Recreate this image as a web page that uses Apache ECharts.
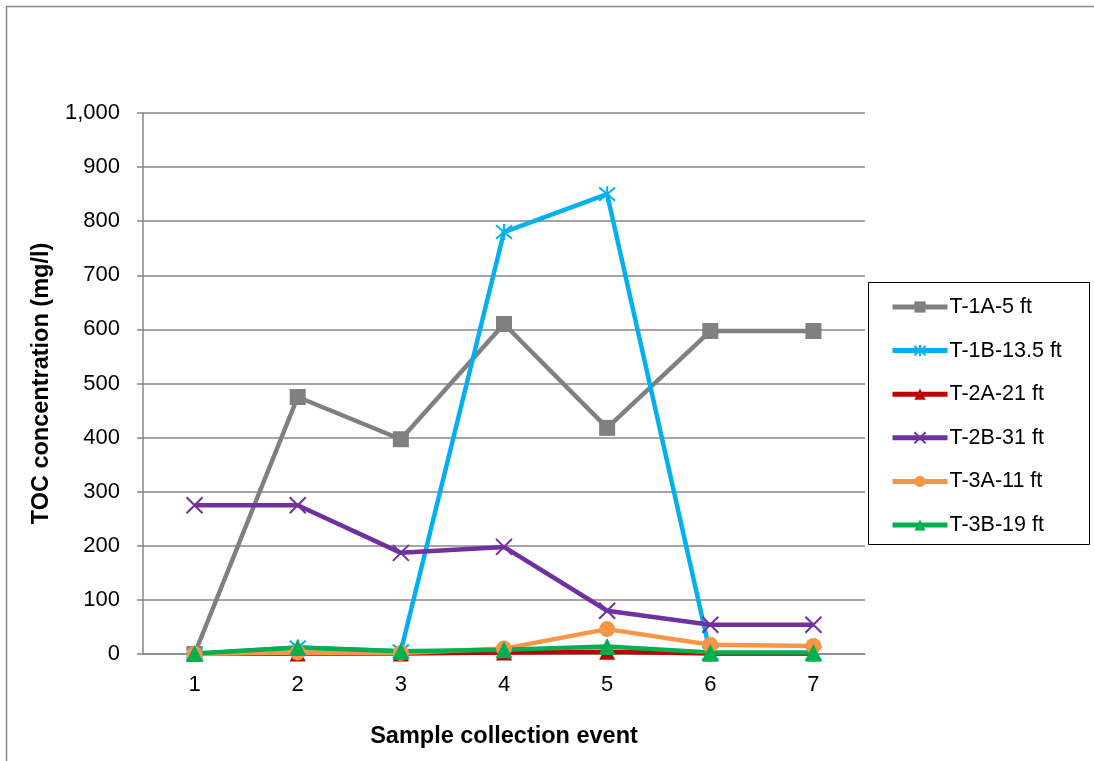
<!DOCTYPE html>
<html>
<head>
<meta charset="utf-8">
<script src="https://cdn.jsdelivr.net/npm/echarts@6/dist/echarts.min.js"></script>
<style>html,body{margin:0;padding:0;background:#fff}#c{width:1094px;height:761px}</style>
</head>
<body>
<div id="c"></div>
<script>
const categories = ['1','2','3','4','5','6','7'];
const seriesNames = ['T-1A-5 ft','T-1B-13.5 ft','T-2A-21 ft','T-2B-31 ft','T-3A-11 ft','T-3B-19 ft'];
const t1a = [0, 475, 397, 610, 418, 597, 597];
const t1b = [0, 12, 5, 780, 850, 1, 1];
const t2a = [0, 1, 1, 3, 4, 1, 1];
const t2b = [275, 275, 187, 198, 80, 54, 54];
const t3a = [0, 3, 2, 10, 46, 17, 15];
const t3b = [1, 12, 5, 8, 14, 3, 3];
const yTicks = {min: 0, max: 1000, interval: 100};

const colors = ['#808080','#00B0F0','#C00000','#7030A0','#F79646','#00B050'];
const xPath = 'path://M0,0L10,10M10,0L0,10';
const starPath = 'path://M0,0L10,10M10,0L0,10M5,-1L5,11';
const symbols = ['rect', starPath, 'triangle', xPath, 'circle', 'triangle'];
const sizes = [16, 16, 16, 16, 16, 17];
const datas = [t1a, t1b, t2a, t2b, t3a, t3b];
const FONT = 'Liberation Sans, Arial, sans-serif';

const chart = echarts.init(document.getElementById('c'));
const series = seriesNames.map((n, i) => {
  const isPath = symbols[i].startsWith('path');
  return {
    name: n, type: 'line', data: datas[i],
    symbol: symbols[i], symbolSize: sizes[i],
    lineStyle: {color: colors[i], width: 4.5},
    itemStyle: isPath ? {color: 'none', borderColor: colors[i], borderWidth: 2} : {color: colors[i], borderWidth: 0},
    emphasis: {disabled: true},
    animation: false
  };
});
chart.setOption({
  animation: false,
  textStyle: {fontFamily: FONT},
  graphic: [
    {type: 'rect', shape: {x: 6.5, y: 6.5, width: 1100, height: 770}, style: {fill: 'none', stroke: '#898989', lineWidth: 1.5}, z: -10},
    {type: 'rect', shape: {x: 868.5, y: 282.5, width: 221, height: 262}, style: {fill: '#fff', stroke: '#000', lineWidth: 1}, z: 0}
  ],
  grid: {left: 143, right: 229, top: 113, bottom: 107, containLabel: false},
  legend: {
    orient: 'vertical', left: 885, top: 291,
    itemWidth: 55, itemHeight: 14, itemGap: 21.6,
    lineStyle: {width: 5},
    textStyle: {fontSize: 21.5, lineHeight: 22, color: '#000', fontFamily: FONT, padding: [0,0,0,-3]},
    data: seriesNames, z: 5
  },
  xAxis: {
    type: 'category', data: categories, boundaryGap: true,
    name: 'Sample collection event', nameLocation: 'middle', nameGap: 71,
    nameTextStyle: {fontSize: 23.5, fontWeight: 'bold', color: '#000', fontFamily: FONT},
    axisLine: {lineStyle: {color: '#878787', width: 1.5}},
    axisTick: {show: false},
    axisLabel: {fontSize: 22, color: '#000', margin: 20, fontFamily: FONT}
  },
  yAxis: {
    type: 'value', min: yTicks.min, max: yTicks.max, interval: yTicks.interval,
    name: 'TOC concentration (mg/l)', nameLocation: 'middle', nameGap: 89,
    nameTextStyle: {fontSize: 23.5, fontWeight: 'bold', color: '#000', fontFamily: FONT},
    axisLine: {show: true, lineStyle: {color: '#878787', width: 1.5}},
    axisTick: {show: true, length: 6, lineStyle: {color: '#878787', width: 1.5}},
    splitLine: {lineStyle: {color: '#878787', width: 1.5}},
    axisLabel: {fontSize: 22, color: '#000', margin: 23, fontFamily: FONT, formatter: v => v.toLocaleString('en-US')}
  },
  series: series
});
</script>
</body>
</html>
